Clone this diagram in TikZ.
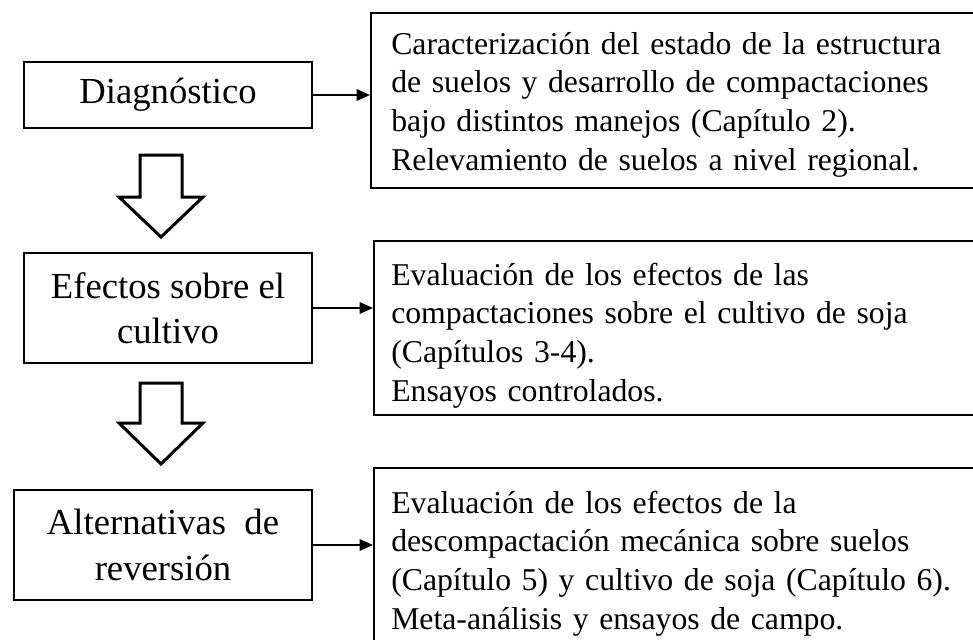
\documentclass[tikz,border=0pt]{standalone}
\usepackage{fontspec}
\setmainfont{Liberation Serif}
\usetikzlibrary{arrows.meta}
\begin{document}
\begin{tikzpicture}[x=0.75pt,y=-0.75pt,
  lbox/.style={draw, line width=1.5pt, align=center, inner sep=0pt, font=\fontsize{27.5}{34}\selectfont},
  rbox/.style={draw, line width=1.5pt, anchor=north west, minimum width=480pt, inner sep=0pt},
  rtext/.style={anchor=base west, inner sep=0pt, text width=440pt, align=left, font=\fontsize{23.8}{29.1}\selectfont},
  conn/.style={line width=1.5pt, -{Triangle[length=10pt,width=8.5pt]}},
  barrow/.style={draw, line width=2.25pt, miter limit=10}]
\useasboundingbox (0,0) rectangle (973,639);
\clip (0,0) rectangle (973,639);
% left boxes
\node[lbox, minimum width=216pt, minimum height=49.5pt] (d1) at (168,95) {\raisebox{-2pt}{Diagnóstico}};
\node[lbox, minimum width=216pt, minimum height=82.5pt] (e1) at (168,308) {Efectos sobre el\\cultivo};
\node[lbox, minimum width=223.5pt, minimum height=82.5pt] (a1) at (163,545) {Alternativas\ \ de\\reversión};
% right boxes
\node[rbox, minimum height=131.25pt] (r1) at (370,12) {};
\node[rbox, minimum height=130.5pt] (r2) at (373,240) {};
\node[rbox, minimum height=180pt] (r3) at (373,467) {};
\node[rtext] (t1) at (391,54) {Caracterización del estado de la estructura\\de suelos y desarrollo de compactaciones\\bajo distintos manejos (Capítulo 2).\\Relevamiento de suelos a nivel regional.};
\node[rtext] (t2) at (391,285) {Evaluación de los efectos de las\\compactaciones sobre el cultivo de soja\\(Capítulos 3-4).\\Ensayos controlados.};
\node[rtext] (t3) at (391,513) {Evaluación de los efectos de la\\descompactación mecánica sobre suelos\\(Capítulo 5) y cultivo de soja (Capítulo 6).\\Meta-análisis y ensayos de campo.};
% connectors
\draw[conn] (d1.east) -- (d1.east -| r1.west);
\draw[conn] (e1.east) -- (e1.east -| r2.west);
\draw[conn] (a1.east) -- (a1.east -| r3.west);
% block arrows
\draw[barrow] (140,155) -- (182,155) -- (182,197) -- (203,197) -- (161,237) -- (119,197) -- (140,197) -- cycle;
\draw[barrow] (140,383) -- (182,383) -- (182,423) -- (203,423) -- (161,464) -- (119,423) -- (140,423) -- cycle;
\end{tikzpicture}
\end{document}
